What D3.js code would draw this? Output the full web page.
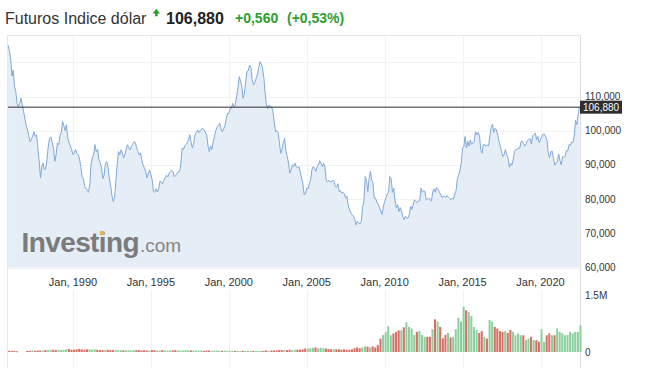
<!DOCTYPE html>
<html>
<head>
<meta charset="utf-8">
<script src="https://cdn.jsdelivr.net/npm/d3@7"></script>
<style>
  html, body { margin: 0; padding: 0; background: #fff; }
  svg { display: block; font-family: Arial, "Liberation Sans", sans-serif; }
</style>
</head>
<body>
<svg id="chart" width="645" height="368"></svg>
<script>
// ---------------- DATA ----------------
const titleText = "Futuros Indice dólar";
const lastPriceText = "106,880";
const changeText = "+0,560";
const changePctText = "(+0,53%)";
const lastPrice = 106.88; // thousands

// Monthly closes (in thousands), starting Nov 1985
const priceStart = [1985, 10]; // year, month index (0 = Jan)
const monthlyPrices = [
  125.0, 123.5,                                                            // 1985 Nov-Dec
  121.0, 116.0, 117.7, 113.0, 111.5, 108.0, 107.0, 108.0, 109.5, 107.5, 105.6, 103.5, // 1986
  101.5, 100.2, 98.5, 96.8, 97.5, 98.5, 99.7, 98.3, 98.8, 95.0, 91.0, 86.2,         // 1987
  89.5, 90.5, 88.5, 89.1, 91.5, 95.5, 97.8, 98.2, 96.5, 94.9, 91.0, 93.0,            // 1988
  96.4, 95.9, 98.5, 99.5, 102.7, 101.5, 100.0, 101.7, 97.8, 96.5, 95.5, 94.4,        // 1989
  93.0, 93.6, 94.5, 93.4, 93.0, 92.0, 89.5, 86.6, 86.0, 83.7, 83.0, 82.7,            // 1990
  82.0, 84.5, 90.5, 92.0, 93.0, 95.9, 93.9, 94.5, 91.5, 90.5, 89.1, 86.0,            // 1991
  87.1, 90.5, 91.0, 89.5, 86.2, 84.0, 81.0, 79.3, 80.5, 85.0, 90.0, 93.9,            // 1992
  93.0, 94.4, 93.5, 92.0, 93.0, 94.5, 95.9, 95.0, 94.4, 95.5, 96.0, 96.8,            // 1993
  96.5, 95.0, 94.0, 92.9, 93.5, 91.5, 90.0, 89.1, 88.0, 86.2, 87.5, 88.5,            // 1994
  87.1, 85.5, 82.2, 82.0, 83.0, 82.1, 83.0, 85.2, 85.0, 84.5, 85.5, 86.2,            // 1995
  87.0, 86.5, 87.5, 88.1, 88.5, 88.0, 86.6, 86.8, 87.5, 88.0, 88.1, 90.0,            // 1996
  94.9, 94.5, 95.5, 95.9, 96.5, 97.5, 98.8, 96.5, 94.9, 96.5, 98.8, 99.5,            // 1997
  100.2, 99.5, 100.0, 100.5, 100.7, 100.2, 99.5, 98.8, 95.5, 93.9, 95.5, 94.5,       // 1998
  96.8, 98.5, 100.0, 101.0, 101.5, 102.2, 100.5, 99.7, 100.5, 101.5, 103.5, 105.1,   // 1999
  105.0, 106.5, 106.5, 108.0, 107.0, 107.5, 110.0, 112.5, 115.8, 114.5, 113.0, 109.5,// 2000
  111.0, 114.5, 117.3, 117.5, 119.2, 118.5, 115.0, 113.4, 114.0, 115.3, 116.5, 118.5,// 2001
  120.2, 119.5, 118.3, 115.5, 111.0, 107.5, 106.5, 107.5, 107.0, 107.0, 105.5, 102.5,// 2002
  99.7, 100.0, 99.5, 96.5, 93.4, 94.5, 96.5, 97.8, 94.0, 92.5, 90.5, 87.6,           // 2003
  88.5, 90.0, 89.5, 90.5, 89.5, 89.1, 89.5, 88.0, 86.2, 84.5, 81.3, 81.5,            // 2004
  83.2, 83.0, 84.5, 85.5, 88.6, 89.5, 89.0, 88.1, 89.5, 90.0, 91.2, 90.5,            // 2005
  89.5, 90.5, 89.5, 85.7, 85.0, 85.5, 85.2, 85.0, 85.5, 85.2, 83.7, 83.5,            // 2006
  84.5, 82.2, 82.5, 81.8, 82.0, 81.5, 80.3, 80.8, 78.0, 76.9, 75.8, 75.5,            // 2007
  75.0, 74.0, 72.5, 73.5, 73.0, 72.8, 73.5, 77.5, 79.5, 86.6, 85.5, 82.2,            // 2008
  86.0, 88.1, 85.5, 85.0, 80.3, 80.3, 79.0, 78.5, 77.4, 76.5, 75.5, 77.8,            // 2009
  79.3, 80.5, 81.5, 82.0, 86.6, 86.0, 82.0, 83.2, 79.5, 77.5, 78.4, 76.4,            // 2010
  77.5, 76.5, 74.8, 74.0, 75.0, 74.5, 74.5, 75.5, 77.9, 77.0, 78.5, 79.8,            // 2011
  79.3, 79.0, 79.5, 79.5, 83.2, 82.0, 82.5, 82.2, 79.8, 80.0, 80.3, 79.8,            // 2012
  79.5, 82.2, 83.0, 82.0, 83.4, 83.0, 82.2, 81.5, 80.5, 80.8, 80.8, 80.5,            // 2013
  81.0, 80.5, 80.2, 79.8, 80.3, 80.0, 81.5, 82.5, 86.0, 87.0, 88.5, 90.5,            // 2014
  95.0, 95.5, 98.3, 95.0, 96.9, 95.5, 97.3, 96.0, 96.4, 97.0, 99.7, 98.8,            // 2015
  99.5, 98.5, 94.5, 93.4, 95.9, 96.0, 95.5, 95.9, 95.5, 98.5, 101.0, 101.9,          // 2016
  99.5, 100.7, 100.3, 99.0, 97.0, 95.5, 93.9, 92.5, 93.0, 94.5, 93.0, 92.1,          // 2017
  89.3, 90.5, 89.9, 91.5, 94.0, 94.5, 94.5, 95.0, 94.8, 96.8, 97.0, 96.2,            // 2018
  95.5, 96.2, 97.2, 97.5, 97.7, 96.1, 98.5, 98.9, 99.3, 97.4, 98.3, 96.5,            // 2019
  97.4, 98.2, 99.0, 99.0, 98.3, 97.3, 93.4, 92.1, 93.9, 94.0, 91.9, 89.9,            // 2020
  90.6, 90.9, 93.2, 91.3, 90.0, 92.4, 92.2, 92.6, 94.2, 94.1, 96.0, 95.7,            // 2021
  96.7, 96.6, 98.3, 103.0, 101.8, 104.7, 106.88                                      // 2022
];

// Bi-monthly volume (millions), starting Nov 1985, one bar per 2 months
const volumeStart = [1985, 10];
const bimonthlyVolume = [
  0.03,                                      // 1985 Nov
  0.03, 0.03, 0.02, 0, 0, 0,                 // 1986
  0.03, 0.03, 0.04, 0.03, 0.04, 0.04,        // 1987
  0.04, 0.05, 0.05, 0.06, 0.06, 0.05,        // 1988
  0.06, 0.05, 0.06, 0.07, 0.08, 0.06,        // 1989
  0.06, 0.07, 0.08, 0.07, 0.06, 0.07,        // 1990
  0.07, 0.06, 0.07, 0.06, 0.05, 0.05,        // 1991
  0.05, 0.06, 0.05, 0.05, 0.06, 0.05,        // 1992
  0.05, 0.04, 0.05, 0.05, 0.04, 0.05,        // 1993
  0.05, 0.05, 0.04, 0.05, 0.04, 0.04,        // 1994
  0.05, 0.05, 0.04, 0.04, 0.05, 0.04,        // 1995
  0.04, 0.04, 0.04, 0.05, 0.04, 0.04,        // 1996
  0.04, 0.05, 0.05, 0.04, 0.04, 0.04,        // 1997
  0.04, 0.04, 0.03, 0.04, 0.04, 0.03,        // 1998
  0.03, 0.04, 0.03, 0.03, 0.04, 0.03,        // 1999
  0.03, 0.03, 0.03, 0.03, 0.03, 0.03,        // 2000
  0.03, 0.03, 0.03, 0.03, 0.03, 0.03,        // 2001
  0.03, 0.03, 0.04, 0.03, 0.04, 0.04,        // 2002
  0.04, 0.05, 0.05, 0.05, 0.05, 0.06,        // 2003
  0.05, 0.06, 0.06, 0.06, 0.07, 0.09,        // 2004
  0.09, 0.10, 0.11, 0.12, 0.10, 0.11,        // 2005
  0.10, 0.09, 0.08, 0.07, 0.07, 0.07,        // 2006
  0.07, 0.06, 0.07, 0.06, 0.06, 0.07,        // 2007
  0.10, 0.12, 0.10, 0.12, 0.15, 0.14,        // 2008
  0.12, 0.15, 0.12, 0.18, 0.35, 0.45,        // 2009
  0.52, 0.68, 0.44, 0.49, 0.53, 0.57,        // 2010
  0.57, 0.65, 0.78, 0.66, 0.62, 0.45,        // 2011
  0.53, 0.55, 0.45, 0.40, 0.40, 0.40,        // 2012
  0.60, 0.86, 0.80, 0.66, 0.36, 0.45,        // 2013
  0.50, 0.38, 0.40, 0.60, 0.90, 0.80,        // 2014
  1.19, 1.10, 1.05, 0.95, 0.66, 0.58,        // 2015
  0.50, 0.55, 0.40, 0.35, 0.84, 0.80,        // 2016
  0.66, 0.62, 0.55, 0.53, 0.55, 0.50,        // 2017
  0.58, 0.53, 0.44, 0.49, 0.44, 0.44,        // 2018
  0.31, 0.35, 0.40, 0.31, 0.31, 0.27,        // 2019
  0.60, 0.27, 0.44, 0.49, 0.44, 0.44,        // 2020
  0.62, 0.53, 0.49, 0.44, 0.45, 0.53,        // 2021
  0.49, 0.53, 0.53, 0.70                     // 2022
];

const xTickYears = [1990, 1995, 2000, 2005, 2010, 2015, 2020];
const yTickValues = [60, 70, 80, 90, 100, 110];     // thousands
const gridValues = [60, 70, 80, 90, 100, 110, 120];
const volumeTickValues = [0, 1.5];                  // millions
const volumeTickLabels = ["0", "1.5M"];

// ---------------- LAYOUT ----------------
const plotLeft = 8, plotRight = 580, plotTop = 35;
const priceBottom = 267.5;
const volTop = 290, volBaseline = 352, chartBottom = 368;

const svg = d3.select("#chart");

const x = d3.scaleTime()
  .domain([new Date(1990, 0, 1), new Date(2020, 0, 1)])
  .range([73, 540.5]);
const y = d3.scaleLinear().domain([60, 110]).range([priceBottom, 96.5]);
const yVol = d3.scaleLinear().domain([0, 1.5]).range([volBaseline, 295]);

const priceData = monthlyPrices.map((v, i) => ({ date: new Date(priceStart[0], priceStart[1] + i, 1), value: v }));
const volData = bimonthlyVolume.map((v, k) => {
  const close = monthlyPrices[Math.min(2 * k + 1, monthlyPrices.length - 1)];
  const prev = k === 0 ? monthlyPrices[0] : monthlyPrices[2 * k - 1];
  return { date: new Date(volumeStart[0], volumeStart[1] + 2 * k, 1), value: v, up: close >= prev };
});

// ---------------- GRID ----------------
const grid = svg.append("g");
grid.selectAll("line.h").data(gridValues).join("line")
  .attr("x1", plotLeft).attr("x2", plotRight)
  .attr("y1", d => Math.round(y(d)) + 0.5).attr("y2", d => Math.round(y(d)) + 0.5)
  .attr("stroke", "#f2f2f2");
grid.selectAll("line.v").data(xTickYears).join("line")
  .attr("x1", d => Math.round(x(new Date(d, 0, 1))) + 0.5)
  .attr("x2", d => Math.round(x(new Date(d, 0, 1))) + 0.5)
  .attr("y1", plotTop).attr("y2", priceBottom)
  .attr("stroke", "#f2f2f2");
grid.selectAll("line.vv").data(xTickYears).join("line")
  .attr("x1", d => Math.round(x(new Date(d, 0, 1))) + 0.5)
  .attr("x2", d => Math.round(x(new Date(d, 0, 1))) + 0.5)
  .attr("y1", volTop).attr("y2", chartBottom)
  .attr("stroke", "#f2f2f2");

// Borders
svg.append("line").attr("x1", plotLeft).attr("x2", plotRight).attr("y1", plotTop + 0.5).attr("y2", plotTop + 0.5).attr("stroke", "#e8e8e8");
svg.append("line").attr("x1", plotLeft - 0.5).attr("x2", plotLeft - 0.5).attr("y1", plotTop).attr("y2", chartBottom).attr("stroke", "#e8e8e8");
svg.append("line").attr("x1", plotRight + 0.5).attr("x2", plotRight + 0.5).attr("y1", plotTop).attr("y2", chartBottom).attr("stroke", "#dcdcdc");

// ---------------- PRICE AREA ----------------
const area = d3.area().x(d => x(d.date)).y0(priceBottom).y1(d => y(d.value));
const line = d3.line().x(d => x(d.date)).y(d => y(d.value));

svg.append("path").datum(priceData).attr("d", area).attr("fill", "#e5edf6");

// Watermark
const wm = svg.append("g");
const inv = wm.append("text").attr("x", 21.5).attr("y", 252)
  .attr("font-size", 28).attr("font-weight", "bold").attr("fill", "#7b7b7b")
  .attr("letter-spacing", -0.6)
  .text("Investing");
const invLen = inv.node().getComputedTextLength();
wm.append("text").attr("x", 21.5 + invLen + 1).attr("y", 252)
  .attr("font-size", 19).attr("fill", "#858585").text(".com");
const iPos = inv.node().getStartPositionOfChar(6);
const iW = inv.node().getExtentOfChar(6).width;
wm.append("rect").attr("x", iPos.x + iW / 2 - 2.6).attr("y", 231).attr("width", 4.6).attr("height", 3.8)
  .attr("fill", "#e3b25a");

svg.append("path").datum(priceData).attr("d", line)
  .attr("fill", "none").attr("stroke", "#80a9d6").attr("stroke-width", 1);

// Last price line
svg.append("line").attr("x1", plotLeft).attr("x2", plotRight)
  .attr("y1", y(lastPrice)).attr("y2", y(lastPrice))
  .attr("stroke", "#2b2b2b").attr("stroke-width", 1);

// ---------------- AXES ----------------
const axisColor = "#333";
svg.selectAll("text.ytick").data(yTickValues).join("text")
  .attr("x", 585).attr("y", d => y(d)).attr("dy", "0.35em")
  .attr("font-size", 10).attr("fill", axisColor)
  .text(d => d3.format(",")(d * 1000));

// last price box
svg.append("rect").attr("x", 580).attr("y", y(lastPrice) - 6.5).attr("width", 42).attr("height", 13)
  .attr("fill", "#2e2e2e");
svg.append("text").attr("x", 583).attr("y", y(lastPrice)).attr("dy", "0.35em")
  .attr("font-size", 10).attr("fill", "#fff").text(lastPriceText);

svg.selectAll("text.xtick").data(xTickYears).join("text")
  .attr("x", d => x(new Date(d, 0, 1))).attr("y", 286)
  .attr("text-anchor", "middle").attr("font-size", 11).attr("fill", axisColor)
  .text(d => "Jan, " + d);

svg.selectAll("text.vtick").data(volumeTickValues).join("text")
  .attr("x", 585).attr("y", d => yVol(d)).attr("dy", "0.35em")
  .attr("font-size", 10).attr("fill", axisColor)
  .text((d, i) => volumeTickLabels[i]);

// ---------------- VOLUME ----------------
const twoMonthPx = x(new Date(2000, 2, 1)) - x(new Date(2000, 0, 1));
svg.append("g").selectAll("rect").data(volData.filter(d => d.value > 0)).join("rect")
  .attr("x", d => x(d.date))
  .attr("width", twoMonthPx - 0.5)
  .attr("y", d => yVol(d.value))
  .attr("height", d => Math.max(1, volBaseline - yVol(d.value)))
  .attr("fill", d => d.up ? "#88cc9a" : "#d5685e")
  .attr("opacity", 0.95);

// ---------------- HEADER ----------------
svg.append("text").attr("x", 5).attr("y", 23.5).attr("font-size", 16).attr("fill", "#333").text(titleText);
svg.append("path")
  .attr("d", "M156.3,8.8 L160,13.4 L157.6,13.4 L157.6,16.3 L155,16.3 L155,13.4 L152.6,13.4 Z")
  .attr("fill", "#2f9e2f");
svg.append("text").attr("x", 166).attr("y", 23.5).attr("font-size", 16).attr("font-weight", "bold")
  .attr("fill", "#222").text(lastPriceText);
svg.append("text").attr("x", 235).attr("y", 23).attr("font-size", 14).attr("font-weight", "bold")
  .attr("fill", "#2f9e2f").text(changeText);
svg.append("text").attr("x", 287).attr("y", 23).attr("font-size", 14).attr("font-weight", "bold")
  .attr("fill", "#2f9e2f").text(changePctText);
</script>
</body>
</html>
